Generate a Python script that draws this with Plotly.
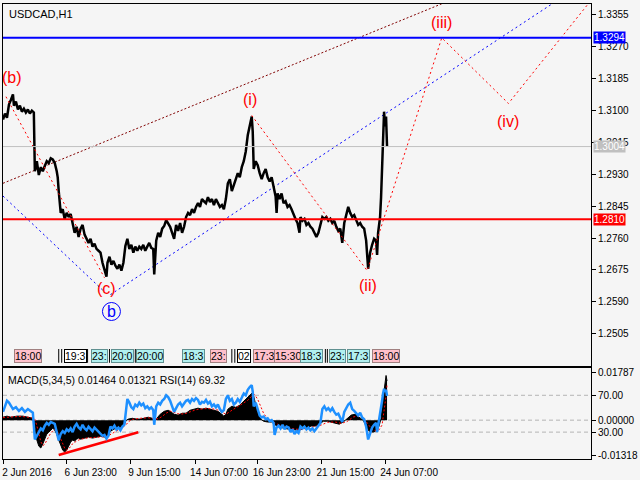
import plotly.graph_objects as go

# USDCAD H1, 2 Jun - 24 Jun 2016; x = bar number (one H1 bar per pixel on the MT4 chart)
price_bar = [2, 4, 6, 8, 10, 12, 13, 15, 17, 19, 21, 23, 25, 27, 29, 31, 33, 34, 36, 38,
             40, 42, 44, 46, 48, 50, 52, 54, 56, 57, 58, 60, 62, 64, 66, 68, 70, 72, 74, 76,
             78, 80, 82, 84, 86, 88, 90, 92, 94, 96, 98, 100, 102, 104, 106, 107, 109, 111, 113, 115,
             117, 119, 121, 123, 125, 127, 129, 131, 133, 135, 137, 139, 141, 143, 145, 147, 149, 151, 153, 154,
             156, 158, 160, 162, 164, 166, 168, 170, 172, 174, 176, 178, 180, 182, 184, 186, 188, 190, 192, 194,
             196, 198, 200, 202, 204, 206, 208, 210, 212, 214, 216, 218, 220, 222, 224, 226, 228, 230, 232, 234,
             236, 238, 240, 242, 244, 246, 248, 250, 252, 253, 254, 256, 258, 260, 262, 264, 266, 268, 270, 272,
             274, 276, 277, 278, 280, 282, 284, 286, 288, 290, 292, 294, 296, 298, 300, 301, 303, 305, 307, 309,
             311, 313, 315, 317, 319, 321, 323, 325, 327, 329, 331, 333, 335, 337, 339, 341, 343, 345, 347, 349,
             351, 353, 355, 357, 359, 361, 363, 365, 367, 369, 371, 373, 375, 377, 378, 379, 381, 382, 383, 384,
             385, 386, 387, 388]
price = [1.3076, 1.3092, 1.3081, 1.3116, 1.3129, 1.3143, 1.3113, 1.3124, 1.3103, 1.3113,
         1.3097, 1.3105, 1.3095, 1.3103, 1.3092, 1.3100, 1.3095, 1.2938, 1.2965, 1.2928,
         1.2949, 1.2938, 1.2952, 1.2965, 1.2960, 1.2973, 1.2970, 1.2960, 1.2938, 1.2922,
         1.2885, 1.2827, 1.2837, 1.2811, 1.2827, 1.2816, 1.2824, 1.2800, 1.2774, 1.2790,
         1.2763, 1.2785, 1.2795, 1.2769, 1.2758, 1.2747, 1.2758, 1.2737, 1.2745, 1.2731,
         1.2726, 1.2721, 1.2694, 1.2678, 1.2657, 1.2694, 1.2710, 1.2689, 1.2699, 1.2686,
         1.2678, 1.2689, 1.2673, 1.2694, 1.2739, 1.2758, 1.2731, 1.2742, 1.2721, 1.2737,
         1.2726, 1.2737, 1.2731, 1.2742, 1.2726, 1.2737, 1.2747, 1.2734, 1.2731, 1.2663,
         1.2753, 1.2774, 1.2763, 1.2785, 1.2792, 1.2808, 1.2800, 1.2790, 1.2774, 1.2758,
         1.2795, 1.2779, 1.2800, 1.2774, 1.2790, 1.2816, 1.2827, 1.2821, 1.2837, 1.2827,
         1.2843, 1.2853, 1.2843, 1.2864, 1.2858, 1.2853, 1.2869, 1.2856, 1.2864, 1.2848,
         1.2864, 1.2853, 1.2843, 1.2848, 1.2837, 1.2864, 1.2906, 1.2917, 1.2885, 1.2901,
         1.2917, 1.2933, 1.2922, 1.2949, 1.2965, 1.2991, 1.3034, 1.3060, 1.3084, 1.3044,
         1.2944, 1.2965, 1.2954, 1.2933, 1.2917, 1.2933, 1.2944, 1.2922, 1.2911, 1.2922,
         1.2895, 1.2871, 1.2827, 1.2879, 1.2864, 1.2879, 1.2853, 1.2858, 1.2843, 1.2848,
         1.2837, 1.2821, 1.2811, 1.2800, 1.2774, 1.2816, 1.2806, 1.2811, 1.2795, 1.2800,
         1.2790, 1.2785, 1.2774, 1.2763, 1.2774, 1.2795, 1.2816, 1.2811, 1.2816, 1.2806,
         1.2811, 1.2800, 1.2806, 1.2790, 1.2779, 1.2785, 1.2747, 1.2800, 1.2821, 1.2843,
         1.2827, 1.2816, 1.2821, 1.2806, 1.2795, 1.2800, 1.2790, 1.2785, 1.2753, 1.2678,
         1.2721, 1.2742, 1.2758, 1.2753, 1.2715, 1.2774, 1.2816, 1.2869, 1.2965, 1.3071,
         1.3097, 1.3058, 1.3084, 1.3004]

# MACD(5,34,5) main line (black histogram)
macd_bar = [2, 6, 10, 16, 22, 28, 32, 34, 36, 38, 40, 42, 44, 46, 48, 50, 52, 54, 56, 58,
            60, 62, 64, 66, 68, 70, 72, 74, 76, 78, 80, 84, 88, 92, 96, 100, 104, 106, 108, 110,
            114, 118, 122, 124, 126, 128, 132, 136, 140, 144, 148, 152, 154, 156, 160, 164, 168, 170, 174, 178,
            182, 186, 190, 194, 198, 202, 206, 210, 214, 218, 222, 224, 226, 228, 232, 236, 240, 244, 248, 251,
            253, 255, 257, 259, 261, 264, 268, 272, 276, 280, 284, 288, 292, 296, 300, 304, 308, 312, 316, 320,
            324, 328, 332, 336, 340, 344, 348, 352, 356, 360, 364, 368, 370, 374, 378, 380, 382, 384, 386, 387,
            388]
macd = [0.0011, 0.0015, 0.0011, 0.0015, 0.0015, 0.0011, 0.0007, -0.0022, -0.0074, -0.0097,
        -0.0104, -0.0089, -0.0067, -0.0052, -0.0045, -0.0037, -0.0030, -0.0037, -0.0052, -0.0074,
        -0.0097, -0.0112, -0.0119, -0.0112, -0.0097, -0.0082, -0.0074, -0.0078, -0.0071, -0.0067,
        -0.0071, -0.0067, -0.0063, -0.0067, -0.0063, -0.0060, -0.0063, -0.0067, -0.0052, -0.0041,
        -0.0033, -0.0030, -0.0022, -0.0015, 0.0000, 0.0004, 0.0007, 0.0004, 0.0004, 0.0007,
        0.0011, 0.0007, -0.0004, 0.0004, 0.0022, 0.0033, 0.0037, 0.0033, 0.0022, 0.0019,
        0.0026, 0.0026, 0.0037, 0.0041, 0.0045, 0.0041, 0.0045, 0.0041, 0.0037, 0.0033,
        0.0022, 0.0015, 0.0022, 0.0041, 0.0052, 0.0048, 0.0056, 0.0071, 0.0086, 0.0100,
        0.0104, 0.0074, 0.0037, 0.0019, 0.0004, -0.0004, -0.0007, -0.0007, -0.0019, -0.0026,
        -0.0030, -0.0033, -0.0033, -0.0037, -0.0037, -0.0030, -0.0026, -0.0022, -0.0022, -0.0015,
        -0.0004, -0.0004, -0.0007, -0.0011, -0.0015, -0.0007, 0.0007, 0.0019, 0.0022, 0.0011,
        0.0000, -0.0030, -0.0041, -0.0045, -0.0037, -0.0022, 0.0007, 0.0082, 0.0149, 0.0167,
        0.01464]

# MACD signal line (red dotted)
signal_bar = [2, 10, 20, 30, 34, 36, 38, 40, 42, 44, 46, 48, 50, 52, 54, 56, 58, 60, 62, 64,
              66, 68, 70, 72, 76, 80, 88, 96, 104, 108, 112, 118, 122, 126, 128, 132, 140, 148, 154, 158,
              162, 166, 170, 174, 178, 184, 190, 196, 204, 212, 218, 222, 226, 230, 236, 242, 248, 252, 255, 258,
              261, 264, 268, 272, 278, 284, 292, 300, 308, 316, 322, 328, 336, 342, 348, 354, 360, 364, 368, 372,
              376, 380, 383, 385, 387, 388]
signal = [0.0010, 0.0012, 0.0014, 0.0010, 0.0004, -0.0020, -0.0050, -0.0080, -0.0095, -0.0090,
          -0.0075, -0.0060, -0.0048, -0.0040, -0.0035, -0.0040, -0.0052, -0.0070, -0.0090, -0.0105,
          -0.0112, -0.0108, -0.0098, -0.0088, -0.0078, -0.0071, -0.0066, -0.0064, -0.0062, -0.0058,
          -0.0048, -0.0036, -0.0028, -0.0016, -0.0006, 0.0003, 0.0007, 0.0009, 0.0006, 0.0005,
          0.0014, 0.0026, 0.0034, 0.0030, 0.0024, 0.0023, 0.0030, 0.0039, 0.0043, 0.0043,
          0.0038, 0.0030, 0.0022, 0.0032, 0.0046, 0.0058, 0.0074, 0.0090, 0.0095, 0.0078,
          0.0050, 0.0025, 0.0005, -0.0005, -0.0015, -0.0025, -0.0031, -0.0035, -0.0030, -0.0024,
          -0.0018, -0.0008, -0.0007, -0.0012, -0.0005, 0.0012, 0.0016, 0.0010, -0.0010, -0.0030,
          -0.0040, -0.0036, -0.0018, 0.0030, 0.0090, 0.01321]

# RSI(14), blue
rsi_bar = [2, 4, 6, 8, 10, 12, 15, 18, 21, 24, 27, 30, 32, 34, 36, 38, 40, 42, 44, 46,
           48, 50, 52, 54, 56, 58, 60, 62, 64, 66, 68, 70, 72, 74, 76, 78, 80, 82, 84, 86,
           88, 90, 92, 94, 96, 98, 100, 102, 104, 106, 108, 110, 112, 114, 116, 118, 120, 122, 124, 126,
           127, 129, 131, 133, 135, 137, 139, 141, 143, 145, 147, 149, 151, 153, 154, 156, 158, 160, 162, 164,
           166, 168, 170, 172, 174, 176, 178, 180, 182, 184, 186, 188, 190, 192, 194, 196, 198, 200, 202, 204,
           206, 208, 210, 212, 214, 216, 218, 220, 222, 224, 226, 228, 230, 232, 234, 236, 238, 240, 242, 244,
           246, 248, 250, 252, 253, 254, 256, 258, 260, 262, 264, 266, 268, 270, 272, 274, 275, 277, 279, 281,
           283, 285, 287, 289, 291, 293, 295, 297, 299, 301, 303, 305, 307, 309, 311, 313, 315, 317, 319, 321,
           323, 325, 327, 329, 331, 333, 335, 337, 339, 341, 343, 345, 347, 349, 351, 353, 355, 357, 359, 361,
           363, 365, 367, 369, 371, 373, 375, 377, 378, 379, 381, 382, 383, 384, 385, 386, 387, 388]
rsi = [52, 57, 64, 62, 58, 55, 57, 53, 56, 52, 55, 53, 51, 22, 27, 30, 34, 32, 37, 40,
       38, 41, 40, 39, 30, 21, 28, 31, 29, 33, 31, 34, 30, 36, 39, 35, 33, 38, 34, 32,
       36, 34, 31, 35, 33, 30, 28, 26, 27, 23, 26, 36, 34, 37, 33, 35, 32, 36, 38, 56,
       66, 62, 57, 55, 60, 58, 62, 59, 61, 56, 58, 55, 57, 54, 38, 58, 62, 60, 64, 66,
       70, 68, 64, 58, 52, 56, 60, 62, 58, 61, 64, 65, 62, 66, 64, 67, 65, 60, 63, 62,
       65, 61, 63, 58, 60, 57, 60, 55, 52, 54, 66, 70, 64, 66, 60, 62, 66, 63, 68, 72,
       70, 76, 79, 81, 74, 58, 62, 55, 48, 46, 47, 44, 45, 42, 43, 40, 27, 35, 37, 34,
       38, 33, 36, 35, 30, 33, 28, 31, 29, 36, 34, 36, 33, 35, 32, 34, 31, 34, 37, 40,
       55, 58, 54, 56, 53, 56, 52, 49, 50, 45, 41, 52, 57, 60, 62, 55, 53, 50, 48, 51,
       46, 44, 36, 22, 30, 35, 38, 40, 30, 36, 48, 55, 64, 72, 77, 74, 76, 69.32]

# MACD divergence trend line
div_bar = [58, 138]
div_macd = [-0.0130, -0.0045]

# wave count (b)-(c) and (i)-(ii)-(iii)-(iv)-(v)
wave_bar = [5, 104, None, 252, 368, 443, 510, 593]
wave_price = [1.3137, 1.2654, None, 1.3087, 1.2673, 1.3294, 1.3119, 1.3394]

# channel lines
blue_bar = [2, 103, None, 110, 557]
blue_price = [1.2872, 1.2619, None, 1.2609, 1.3390]
maroon_bar = [2, 445]
maroon_price = [1.2906, 1.3387]

# levels
resistance = 1.3294
support = 1.2810
last_price = 1.3004

price_ticks = [1.2505, 1.2590, 1.2675, 1.2760, 1.2845, 1.2930, 1.3015, 1.3100, 1.3185, 1.3270, 1.3355]
date_bar = [2, 66, 130, 195, 258, 322, 386]
date_labels = ["2 Jun 2016", "6 Jun 23:00", "9 Jun 15:00", "14 Jun 07:00", "16 Jun 23:00",
               "21 Jun 15:00", "24 Jun 07:00"]

# economic calendar markers
event_bar = [13, 63, 90, 111, 136, 182, 210, 237, 253, 274, 301, 330, 348, 373]
event_time = ["18:00", "19:3", "23:", "20:0", "20:00", "18:3", "23:", "02", "17:3", "15:30",
              "18:3", "23:", "17:3", "18:00"]
event_kind = ["high", "low", "mid", "mid", "mid", "mid", "high", "low", "high", "high",
              "mid", "mid", "mid", "high"]
event_stems = [58, 61, 85, 87, 107, 109, 133, 135, 204, 232, 235, 326, 328]

BG = "#f5f5f5"
FONT = "Liberation Sans"

fig = go.Figure()

fig.add_trace(go.Scatter(x=maroon_bar, y=maroon_price, mode="lines",
                         line=dict(color="#800000", width=1, dash="2px,2px"), hoverinfo="skip"))
fig.add_trace(go.Scatter(x=blue_bar, y=blue_price, mode="lines",
                         line=dict(color="#0000ff", width=1, dash="2px,3px"), hoverinfo="skip"))
fig.add_trace(go.Scatter(x=price_bar, y=price, mode="lines",
                         line=dict(color="black", width=2.5), name="USDCAD"))
fig.add_trace(go.Scatter(x=wave_bar, y=wave_price, mode="lines",
                         line=dict(color="#ff0000", width=1, dash="2px,3px"), hoverinfo="skip"))

# indicator panel
fig.add_trace(go.Scatter(x=macd_bar, y=macd, mode="lines", fill="tozeroy", fillcolor="black",
                         line=dict(color="black", width=1), xaxis="x2", yaxis="y2", name="MACD"))
fig.add_trace(go.Scatter(x=signal_bar, y=signal, mode="lines",
                         line=dict(color="#ff0000", width=1, dash="2px,2px"),
                         xaxis="x2", yaxis="y2", name="Signal"))
fig.add_trace(go.Scatter(x=rsi_bar, y=rsi, mode="lines",
                         line=dict(color="#1e90ff", width=2.5), xaxis="x2", yaxis="y3", name="RSI"))
fig.add_trace(go.Scatter(x=div_bar, y=div_macd, mode="lines",
                         line=dict(color="#ff0000", width=2.5), xaxis="x2", yaxis="y2", hoverinfo="skip"))

# horizontal levels
for lvl, col, w in [(last_price, "#c0c0c0", 1), (resistance, "#0000ff", 2), (support, "#ff0000", 2)]:
    fig.add_shape(type="line", xref="x domain", x0=0, x1=1, yref="y", y0=lvl, y1=lvl,
                  line=dict(color=col, width=w))
    fig.add_annotation(xref="paper", x=1, xanchor="left", xshift=2, yref="y", y=lvl,
                       yanchor="middle", text=f"{lvl:.4f}", showarrow=False, bgcolor=col,
                       borderpad=0, font=dict(color="white", size=10, family=FONT))

# dashed levels in indicator window
for ref, lvl in [("y3", 70), ("y2", 0), ("y3", 30)]:
    fig.add_shape(type="line", xref="x2 domain", x0=0, x1=1, yref=ref, y0=lvl, y1=lvl,
                  line=dict(color="#b4b4b4", width=1, dash="4px,3px"), layer="below")

# wave labels
for txt, bx, py in [("(b)", 11, 1.3188), ("(c)", 106, 1.2625), ("(i)", 250, 1.3129),
                    ("(ii)", 369, 1.2633), ("(iii)", 443, 1.3334), ("(iv)", 510, 1.3071)]:
    fig.add_annotation(x=bx, y=py, text=txt, showarrow=False, yanchor="middle",
                       font=dict(color="#ff0000", size=16, family=FONT))
fig.add_annotation(x=111, y=1.2564, text="b", showarrow=False, yanchor="middle",
                   font=dict(color="#0000ff", size=16, family=FONT))
fig.add_shape(type="circle", xref="x", yref="y", xsizemode="pixel", ysizemode="pixel",
              xanchor=111, yanchor=1.2564, x0=-9, x1=9, y0=-9, y1=9,
              line=dict(color="#0000ff", width=1))

# calendar markers
kind_fill = {"high": "#ffc0cb", "mid": "#b0f0f0", "low": "white"}
kind_line = {"high": "#a08080", "mid": "#609090", "low": "black"}
for b in event_stems:
    fig.add_shape(type="line", xref="x", x0=b, x1=b, yref="y domain", y0=0.01, y1=0.048,
                  line=dict(color="black", width=1))
for b, t, k in zip(event_bar, event_time, event_kind):
    fig.add_annotation(x=b, xanchor="left", xref="x", yref="y domain", y=0.029, yanchor="middle",
                       text=t, showarrow=False, bgcolor=kind_fill[k], bordercolor=kind_line[k],
                       borderwidth=1, borderpad=0, font=dict(color="black", size=10.5, family=FONT))

fig.add_annotation(xref="paper", x=0, xanchor="left", xshift=4, yref="paper", y=1,
                   yanchor="top", yshift=-2, text="USDCAD,H1", showarrow=False,
                   font=dict(size=11, family=FONT, color="black"))
fig.add_annotation(xref="x2 domain", x=0, xanchor="left", xshift=3, yref="y2 domain", y=1,
                   yanchor="top", yshift=-4, text="MACD(5,34,5) 0.01464 0.01321 RSI(14) 69.32",
                   showarrow=False, font=dict(size=10.5, family=FONT, color="black"))

axis_common = dict(showline=True, linecolor="black", linewidth=1, mirror=True,
                   showgrid=False, zeroline=False)
fig.update_layout(
    width=640, height=480,
    margin=dict(l=2, r=47, t=2, b=21),
    paper_bgcolor=BG, plot_bgcolor=BG,
    showlegend=False,
    font=dict(family=FONT, size=10, color="black"),
    xaxis=dict(domain=[0, 1], anchor="y", range=[2, 593], showticklabels=False, ticks="",
               **axis_common),
    yaxis=dict(domain=[0.2035, 1], anchor="x", side="right", range=[1.24175, 1.33843],
               tickvals=price_ticks, ticktext=[f"{v:.4f}" for v in price_ticks],
               ticks="outside", ticklen=4, tickcolor="black", **axis_common),
    xaxis2=dict(domain=[0, 1], anchor="y2", matches="x", range=[2, 593],
                tickvals=date_bar, ticktext=date_labels, ticks="outside", ticklen=4,
                tickcolor="black", ticklabelshift=24, **axis_common),
    yaxis2=dict(domain=[0, 0.1991], anchor="x2", side="right", range=[-0.01451, 0.01934],
                tickvals=[0.01787, 0, -0.01318], ticktext=["0.01787", "0.00000", "-0.01318"],
                ticks="outside", ticklen=4, tickcolor="black", **axis_common),
    yaxis3=dict(overlaying="y2", anchor="x2", side="right", range=[0.8, 99.2],
                tickvals=[70, 30], ticktext=["70.00", "30.00"], ticks="outside", ticklen=4,
                tickcolor="black", showgrid=False, zeroline=False, showline=False),
)

fig.write_html("out.html", config={"displayModeBar": False},
               post_script="document.body.style.margin='0';")
